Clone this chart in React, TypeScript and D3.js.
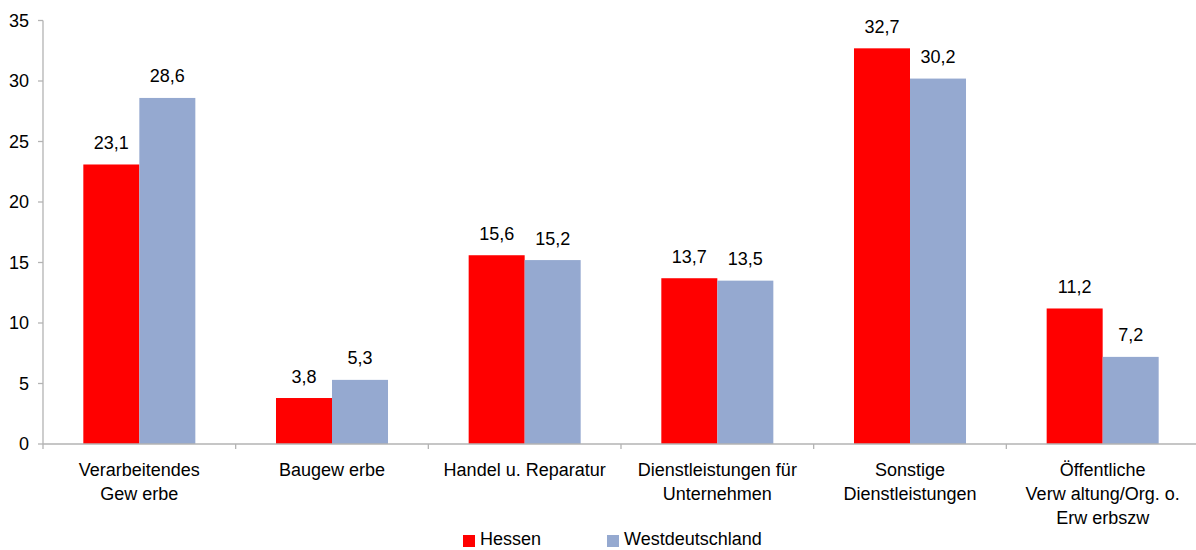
import { useEffect, useRef } from "react";
import * as d3 from "d3";

const categories = [
  ["Verarbeitendes", "Gew erbe"],
  ["Baugew erbe"],
  ["Handel u. Reparatur"],
  ["Dienstleistungen für", "Unternehmen"],
  ["Sonstige", "Dienstleistungen"],
  ["Öffentliche", "Verw altung/Org. o.", "Erw erbszw"],
];
const hessen = [23.1, 3.8, 15.6, 13.7, 32.7, 11.2];
const westdeutschland = [28.6, 5.3, 15.2, 13.5, 30.2, 7.2];
const seriesNames = ["Hessen", "Westdeutschland"];
const seriesColors = ["#ff0000", "#95a9d0"];
const yTicks = [0, 5, 10, 15, 20, 25, 30, 35];

const App = () => {
  const svgRef = useRef<SVGSVGElement | null>(null);

  useEffect(() => {
    const svg = d3.select(svgRef.current);
    svg.selectAll("*").remove();

    const left = 43;
    const right = 1199;
    const top = 20.5;
    const bottom = 444;
    const font = "'Liberation Sans', Arial, sans-serif";
    const fs = 18;

    const x0 = d3
      .scaleBand<number>()
      .domain(categories.map((_, i) => i))
      .range([left, right]);
    const x1 = d3
      .scaleBand<number>()
      .domain([0, 1])
      .range([0, x0.bandwidth()])
      .paddingOuter(0.72)
      .paddingInner(0);
    const y = d3.scaleLinear().domain([0, 35]).range([bottom, top]);

    const g = svg.append("g");

    // y axis
    g.append("line")
      .attr("x1", left)
      .attr("x2", left)
      .attr("y1", top)
      .attr("y2", bottom)
      .attr("stroke", "#b3b3b3")
      .attr("stroke-width", 1.3);
    yTicks.forEach((t) => {
      g.append("line")
        .attr("x1", left - 5)
        .attr("x2", left)
        .attr("y1", y(t))
        .attr("y2", y(t))
        .attr("stroke", "#b3b3b3")
        .attr("stroke-width", 1.3);
      g.append("text")
        .attr("x", left - 14)
        .attr("y", y(t))
        .attr("dy", "0.36em")
        .attr("text-anchor", "end")
        .attr("font-family", font)
        .attr("font-size", fs)
        .attr("fill", "#000")
        .text(t);
    });

    // bars
    const series = [hessen, westdeutschland];
    categories.forEach((_, i) => {
      series.forEach((vals, s) => {
        const bx = (x0(i) || 0) + (x1(s) || 0);
        g.append("rect")
          .attr("x", bx)
          .attr("y", y(vals[i]))
          .attr("width", x1.bandwidth())
          .attr("height", bottom - y(vals[i]))
          .attr("fill", seriesColors[s]);
        g.append("text")
          .attr("x", bx + x1.bandwidth() / 2)
          .attr("y", y(vals[i]) - 15.5)
          .attr("text-anchor", "middle")
          .attr("font-family", font)
          .attr("font-size", fs)
          .attr("fill", "#000")
          .text(String(vals[i]).replace(".", ","));
      });
    });

    // x axis
    g.append("line")
      .attr("x1", left)
      .attr("x2", right)
      .attr("y1", bottom)
      .attr("y2", bottom)
      .attr("stroke", "#b3b3b3")
      .attr("stroke-width", 1.3);
    categories.forEach((lines, i) => {
      const cx = (x0(i) || 0) + x0.bandwidth() / 2;
      g.append("line")
        .attr("x1", x0(i) || 0)
        .attr("x2", x0(i) || 0)
        .attr("y1", bottom)
        .attr("y2", bottom + 5)
        .attr("stroke", "#b3b3b3")
        .attr("stroke-width", 1.3);
      lines.forEach((ln, k) => {
        g.append("text")
          .attr("x", cx)
          .attr("y", bottom + 32 + k * 24)
          .attr("text-anchor", "middle")
          .attr("font-family", font)
          .attr("font-size", fs)
          .attr("fill", "#000")
          .text(ln);
      });
    });

    // legend
    const legendX = [463, 607];
    seriesNames.forEach((name, s) => {
      g.append("rect")
        .attr("x", legendX[s])
        .attr("y", 535)
        .attr("width", 12)
        .attr("height", 12)
        .attr("fill", seriesColors[s]);
      g.append("text")
        .attr("x", legendX[s] + 17)
        .attr("y", 545)
        .attr("font-family", font)
        .attr("font-size", fs)
        .attr("fill", "#000")
        .text(name);
    });
  }, []);

  return (
    <svg
      ref={svgRef}
      width={1196}
      height={550}
      style={{ position: "absolute", left: 0, top: 0, background: "#fff" }}
    />
  );
};

export default App;
